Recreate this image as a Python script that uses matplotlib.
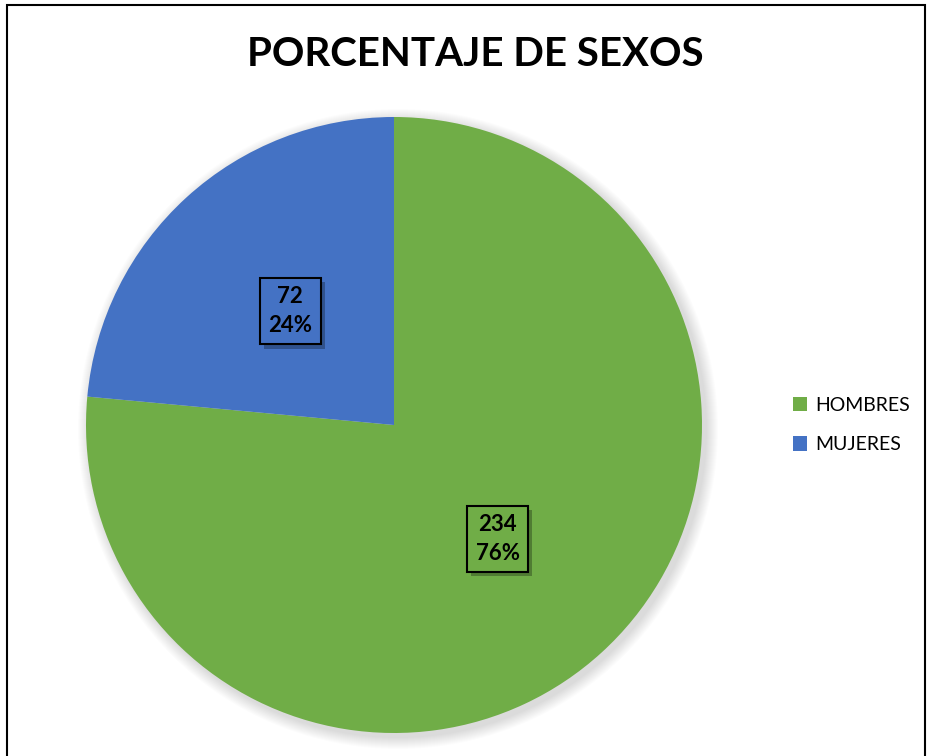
import numpy as np
import matplotlib.pyplot as plt
from matplotlib.patches import Rectangle, Circle
import matplotlib.patheffects as pe

labels = ['HOMBRES', 'MUJERES']
counts = [234, 72]
colors = ['#70AD47', '#4472C4']

plt.rcParams['font.family'] = ['Lato', 'DejaVu Sans']

W, H = 930, 756
fig = plt.figure(figsize=(W / 100, H / 100), dpi=100)
ax = fig.add_axes([0, 0, 1, 1])

cx, cy, r = 394, H - 425, 308

# soft shadow behind the pie
for i in range(12):
    ax.add_patch(Circle((cx + 4, cy - 4), r + 12 - i, color='black', alpha=0.012, lw=0, zorder=0.5))

total = sum(counts)


def fmt(pct):
    val = int(round(pct * total / 100))
    return f'{val}\n{pct:.0f}%'


wedges, texts, autotexts = ax.pie(counts, colors=colors, startangle=90, counterclock=False,
                                  center=(cx, cy), radius=r, autopct=fmt, pctdistance=0.5,
                                  textprops=dict(fontsize=16, fontweight='bold', color='black'),
                                  frame=True)
ax.set_xlim(0, W)
ax.set_ylim(0, H)
ax.set_aspect('equal')
ax.axis('off')
for w in wedges:
    w.set_zorder(1)

# outer frame of the chart
ax.add_patch(Rectangle((7, -10), 918, H - 5 + 10, fill=False, lw=1.5, ec='black', clip_on=False))

for t, c in zip(autotexts, colors):
    t.set_linespacing(1.45)
    t.set_bbox(dict(boxstyle='square,pad=0.38', fc=c, ec='black', lw=1.5))
    t.get_bbox_patch().set_path_effects([pe.SimplePatchShadow(offset=(3, -3), alpha=0.4), pe.Normal()])
    t.set_zorder(3)

fig.text(475 / W, 1 - 55 / H, 'PORCENTAJE DE SEXOS', ha='center', va='center',
         fontsize=29, fontweight='bold')

ax.legend(wedges, labels, loc='center left', bbox_to_anchor=(775 / W, 1 - 425 / H),
          bbox_transform=fig.transFigure, frameon=False, fontsize=14,
          handlelength=0.75, handleheight=0.75, handletextpad=0.4, labelspacing=1.15)

fig.savefig('out.png', dpi=100)
